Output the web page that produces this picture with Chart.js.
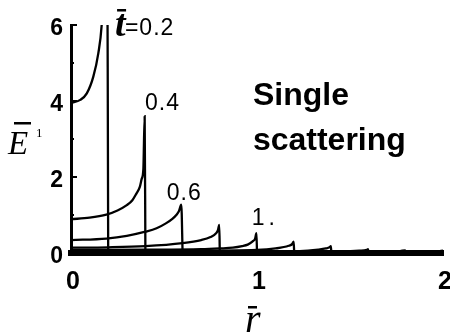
<!DOCTYPE html>
<html>
<head>
<meta charset="utf-8">
<script src="https://cdn.jsdelivr.net/npm/chart.js@4"></script>
<style>
  html, body { margin: 0; padding: 0; background: #fff; }
</style>
</head>
<body>
<canvas id="energyChart" width="450" height="334"></canvas>
<script>
// Tiempos de propagación normalizados de cada curva
const lapseTimes = [0.2, 0.4, 0.6, 0.8, 1.0, 1.2, 1.4, 1.6, 1.8, 2.0];

// Distancia normalizada r y densidad de energía E para cada tiempo
const r02 = [0, 0.05, 0.085, 0.12, 0.147, 0.165, 0.18, 0.192, 0.2];
const e02 = [3.95, 4.03, 4.2, 4.64, 5.26, 6.0, 7.5, 12, 0];

const r04 = [0, 0.1, 0.19, 0.25, 0.3, 0.33, 0.35, 0.37, 0.38, 0.389, 0.396, 0.4];
const e04 = [0.89, 0.93, 1.01, 1.12, 1.26, 1.39, 1.55, 1.74, 1.95, 2.2, 3.6, 0];

const r06 = [0, 0.19, 0.3, 0.4, 0.46, 0.51, 0.545, 0.566, 0.58, 0.593, 0.6];
const e06 = [0.34, 0.38, 0.45, 0.56, 0.65, 0.78, 0.9, 1.0, 1.1, 1.27, 0];

const r08 = [0, 0.2, 0.4, 0.6, 0.7, 0.75, 0.78, 0.79, 0.797, 0.8];
const e08 = [0.14, 0.15, 0.18, 0.26, 0.34, 0.42, 0.52, 0.6, 0.74, 0];

const r10 = [0, 0.4, 0.7, 0.8, 0.87, 0.92, 0.95, 0.975, 0.99, 0.997, 1.0];
const e10 = [0.08, 0.085, 0.1, 0.12, 0.14, 0.18, 0.22, 0.3, 0.38, 0.52, 0];

const r12 = [0, 0.6, 1.0, 1.1, 1.17, 1.19, 1.197, 1.2];
const e12 = [0.05, 0.06, 0.08, 0.12, 0.19, 0.24, 0.3, 0];

const r14 = [0, 1.0, 1.23, 1.33, 1.37, 1.39, 1.397, 1.4];
const e14 = [0.03, 0.04, 0.05, 0.09, 0.12, 0.15, 0.18, 0];

const r16 = [0, 1.2, 1.45, 1.55, 1.59, 1.597, 1.6];
const e16 = [0.02, 0.03, 0.04, 0.06, 0.08, 0.1, 0];

const r18 = [0, 1.4, 1.65, 1.77, 1.797, 1.8];
const e18 = [0.02, 0.02, 0.03, 0.05, 0.07, 0];

const r20 = [0, 1.6, 1.85, 1.97, 1.997, 2.0];
const e20 = [0.01, 0.02, 0.03, 0.04, 0.06, 0];

// Marcas de los ejes
const xTicks = [0, 1, 2];
const yTicks = [0, 2, 4, 6];
const yMinorTicks = [1, 3, 5];

const curves = [
    [r02, e02], [r04, e04], [r06, e06], [r08, e08], [r10, e10],
    [r12, e12], [r14, e14], [r16, e16], [r18, e18], [r20, e20]
];

const datasets = curves.map(([rs, es], i) => ({
    label: 't=' + lapseTimes[i],
    data: rs.map((r, k) => ({ x: r, y: es[k] })),
    showLine: true,
    borderColor: '#000',
    borderWidth: 2.3,
    pointRadius: 0,
    cubicInterpolationMode: 'monotone'
}));

// Texto y marcas que Chart.js no dibuja por sí mismo
const overlay = {
    id: 'overlay',
    afterDraw(chart) {
        const { ctx, scales: { x, y } } = chart;
        const left = x.getPixelForValue(0);
        ctx.save();
        ctx.fillStyle = '#000';
        ctx.strokeStyle = '#000';

        // marcas hacia dentro del eje vertical
        ctx.lineWidth = 2;
        yTicks.slice(1).forEach(v => {
            const py = y.getPixelForValue(v);
            ctx.beginPath();
            ctx.moveTo(left, py);
            ctx.lineTo(left + 6, py);
            ctx.stroke();
        });
        yMinorTicks.forEach(v => {
            const py = y.getPixelForValue(v);
            ctx.beginPath();
            ctx.moveTo(left, py);
            ctx.lineTo(left + 3, py);
            ctx.stroke();
        });

        // etiquetas de las curvas
        ctx.textAlign = 'left';
        ctx.textBaseline = 'alphabetic';
        ctx.font = 'bold italic 38px "Liberation Serif"';
        const tx = x.getPixelForValue(0.237), ty = y.getPixelForValue(5.71);
        ctx.fillText('t', tx, ty);
        ctx.fillRect(tx + 2, ty - 27, 9, 2.5);

        ctx.font = '23px "Liberation Sans"';
        ctx.letterSpacing = '1px';
        ctx.fillText('=0.2', x.getPixelForValue(0.29), y.getPixelForValue(5.74));
        ctx.fillText('0.4', x.getPixelForValue(0.398), y.getPixelForValue(3.76));
        ctx.fillText('0.6', x.getPixelForValue(0.515), y.getPixelForValue(1.39));
        ctx.letterSpacing = '4px';
        ctx.fillText('1.', x.getPixelForValue(0.972), y.getPixelForValue(0.74));
        ctx.letterSpacing = '0px';

        ctx.font = 'bold 32px "Liberation Sans"';
        ctx.fillText('Single', x.getPixelForValue(0.978), y.getPixelForValue(3.89));
        ctx.fillText('scattering', x.getPixelForValue(0.978), y.getPixelForValue(2.71));

        // títulos de los ejes con barra superior
        ctx.font = 'italic 33px "Liberation Serif"';
        ctx.fillText('E', 8, 154);
        ctx.fillRect(14, 122, 17, 2.5);
        ctx.font = '13px "Liberation Serif"';
        ctx.fillText('1', 36, 137);

        ctx.font = 'italic 40px "Liberation Serif"';
        ctx.fillText('r', 245, 332);
        ctx.fillRect(248, 306, 9, 2.5);
        ctx.restore();
    }
};

const ctx = document.getElementById('energyChart').getContext('2d');
const energyChart = new Chart(ctx, {
    type: 'scatter',
    data: { datasets: datasets },
    options: {
        responsive: false,
        animation: false,
        devicePixelRatio: 1,
        layout: { padding: { top: 25, right: 7, left: 0, bottom: 0 } },
        plugins: {
            legend: { display: false },
            tooltip: { enabled: false }
        },
        scales: {
            x: {
                type: 'linear',
                min: 0,
                max: 2,
                afterFit: scale => {
                    scale.height = 81;
                    scale.paddingLeft = 0;
                    scale.paddingRight = 0;
                },
                afterBuildTicks: scale => { scale.ticks = xTicks.map(v => ({ value: v })); },
                grid: { display: false, drawTicks: false },
                border: { display: true, color: '#000', width: 6 },
                ticks: {
                    color: '#000',
                    padding: 14,
                    labelOffset: 2,
                    font: { family: '"Liberation Sans"', size: 25, weight: 'bold' }
                }
            },
            y: {
                type: 'linear',
                min: 0,
                max: 6,
                afterFit: scale => { scale.width = 71; },
                afterBuildTicks: scale => { scale.ticks = yTicks.map(v => ({ value: v })); },
                grid: { display: false, drawTicks: false },
                border: { display: true, color: '#000', width: 3 },
                ticks: {
                    color: '#000',
                    padding: 8,
                    labelOffset: 4,
                    font: { family: '"Liberation Sans"', size: 23, weight: 'bold' }
                }
            }
        }
    },
    plugins: [overlay]
});
</script>
</body>
</html>
